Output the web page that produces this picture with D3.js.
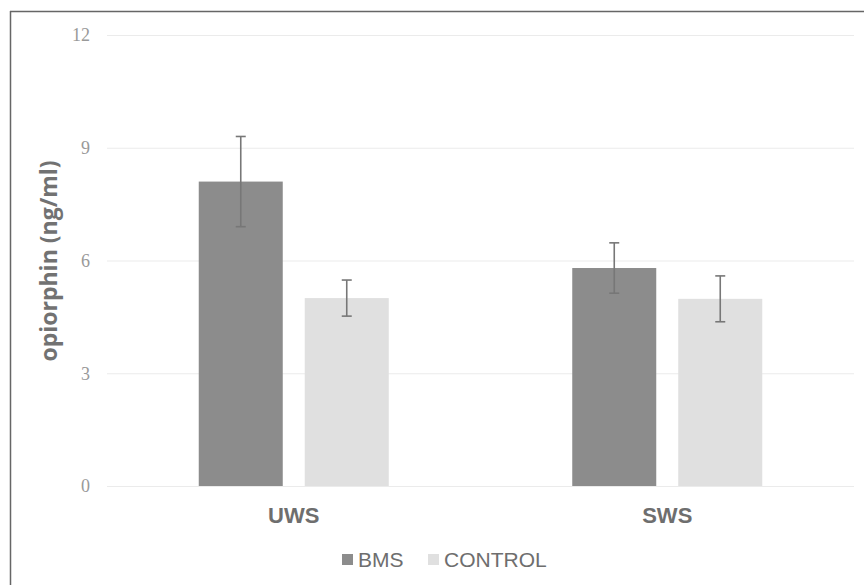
<!DOCTYPE html>
<html><head><meta charset="utf-8">
<script src="https://cdn.jsdelivr.net/npm/d3@7"></script>
<style>body{margin:0;background:#fff}svg{display:block}</style>
</head><body>
<svg id="c" width="864" height="585"></svg>
<script>
const categories = ["UWS", "SWS"];
const seriesNames = ["BMS", "CONTROL"];
const bmsValues = [8.1, 5.8];
const controlValues = [5.0, 4.98];
const bmsErrors = [1.2, 0.67];
const controlErrors = [0.48, 0.61];
const yTicks = [0, 3, 6, 9, 12];
const colors = ["#8c8c8c", "#e0e0e0"];

const svg = d3.select("#c");
// frame
svg.append("line").attr("x1",10.5).attr("x2",10.5).attr("y1",11).attr("y2",585).attr("stroke","#666").attr("stroke-width",1.5);
svg.append("line").attr("x1",10).attr("x2",864).attr("y1",11.5).attr("y2",11.5).attr("stroke","#666").attr("stroke-width",1.5);

const x0 = d3.scaleBand().domain(categories).range([107, 854]).paddingInner(0).paddingOuter(0);
const x1 = d3.scaleBand().domain(seriesNames).range([0, 190]).paddingInner(0.2075);
const y = d3.scaleLinear().domain([0, 12]).range([486, 35]);

// gridlines
svg.append("g").selectAll("line").data(yTicks).join("line")
  .attr("x1",107).attr("x2",854).attr("y1",d=>y(d)+0.5).attr("y2",d=>y(d)+0.5)
  .attr("stroke","#ebebeb").attr("stroke-width",1.2);

// y axis labels
const yAxis = d3.axisLeft(y).tickValues(yTicks).tickSize(0).tickPadding(0);
const ga = svg.append("g").attr("transform","translate(90,0)").call(yAxis);
ga.select(".domain").remove();
ga.selectAll("text").attr("font-family","'Liberation Serif', serif").attr("font-size",18).attr("fill","#999");

const data = categories.map((c,i)=>({cat:c, vals:[
  {s:"BMS", v:bmsValues[i], e:bmsErrors[i]},
  {s:"CONTROL", v:controlValues[i], e:controlErrors[i]}
]}));

const groups = svg.append("g").selectAll("g").data(data).join("g")
  .attr("transform", d=>`translate(${x0(d.cat)+x0.bandwidth()/2-95},0)`);

groups.selectAll("rect").data(d=>d.vals).join("rect")
  .attr("x", d=>x1(d.s)).attr("width", x1.bandwidth())
  .attr("y", d=>y(d.v)).attr("height", d=>y(0)-y(d.v))
  .attr("fill", (d,i)=>colors[i]);

const eb = groups.selectAll("g.eb").data(d=>d.vals).join("g").attr("class","eb")
  .attr("stroke","#777").attr("stroke-width",1.6);
const cx = d=>x1(d.s)+x1.bandwidth()/2;
eb.append("line").attr("x1",cx).attr("x2",cx)
  .attr("y1",d=>y(d.v+d.e)).attr("y2",d=>y(d.v-d.e));
eb.append("line").attr("x1",d=>cx(d)-5).attr("x2",d=>cx(d)+5)
  .attr("y1",d=>y(d.v+d.e)).attr("y2",d=>y(d.v+d.e));
eb.append("line").attr("x1",d=>cx(d)-5).attr("x2",d=>cx(d)+5)
  .attr("y1",d=>y(d.v-d.e)).attr("y2",d=>y(d.v-d.e));

// category labels
const xAxis = d3.axisBottom(x0).tickSize(0).tickPadding(0);
const gx = svg.append("g").attr("transform","translate(0,523)").call(xAxis);
gx.select(".domain").remove();
gx.selectAll("text").attr("dy",0).attr("font-family","'Liberation Sans', Arial, sans-serif").attr("font-weight","bold").attr("font-size",22).attr("fill","#6e6e6e");

// y title
svg.append("text").attr("transform","translate(57,261) rotate(-90)").attr("text-anchor","middle")
  .attr("font-family","'Open Sans', 'Liberation Sans', sans-serif").attr("font-weight","bold").attr("font-size",23).attr("fill","#727272")
  .text("opiorphin (ng/ml)");

// legend
const legX = [342, 428];
const leg = svg.append("g").selectAll("g").data(seriesNames).join("g")
  .attr("transform",(d,i)=>`translate(${legX[i]},0)`);
leg.append("rect").attr("x",0).attr("y",554).attr("width",11).attr("height",11).attr("fill",(d,i)=>colors[i]);
leg.append("text").attr("x",16).attr("y",567).attr("font-family","'Liberation Sans', Arial, sans-serif").attr("font-size",21).attr("fill","#6e6e6e").text(d=>d);
</script>
</body></html>
